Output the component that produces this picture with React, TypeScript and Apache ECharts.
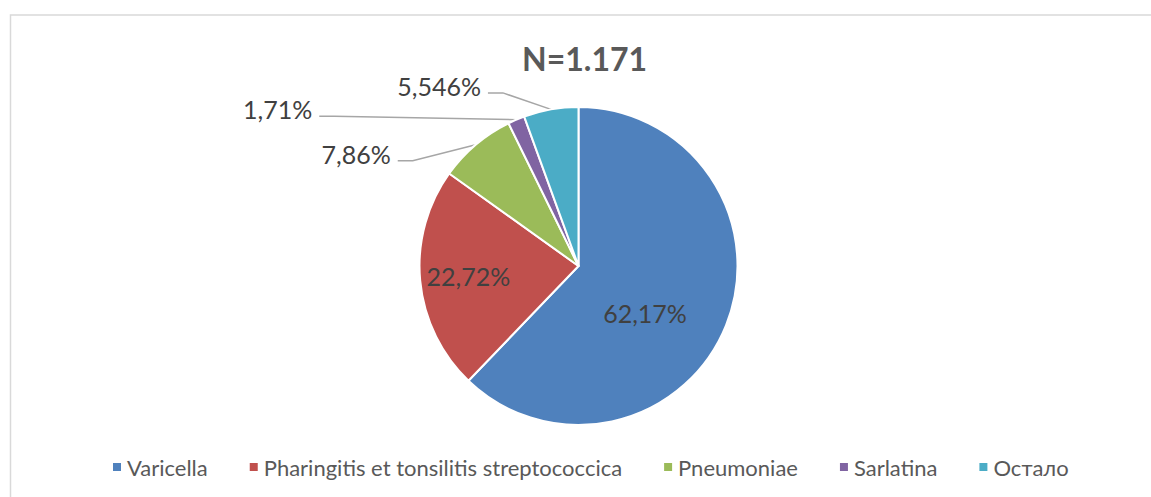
import React, { useEffect, useRef } from "react";
import * as echarts from "echarts";

const categories = [
  "Varicella",
  "Pharingitis et tonsilitis streptococcica",
  "Pneumoniae",
  "Sarlatina",
  "Остало",
];
const values = [62.17, 22.72, 7.86, 1.71, 5.546];
const colors = ["#4F81BD", "#C0504D", "#9BBB59", "#8064A2", "#4BACC6"];
const insideItems = [true, true, false, false, false];
const titleText = "N=1.171";

// label placement tweaks (pixel offsets, layout only)
const insideOffsets: Record<number, [number, number]> = { 0: [-10, 16], 1: [-28, 2] };
const outsideOffsets: Record<number, [number, number]> = {
  2: [-85, 9],
  3: [-204, -10.5],
  4: [-70, -23.5],
};

const fmt = (v: number) => String(v).replace(".", ",") + "%";

export default function App() {
  const ref = useRef<HTMLDivElement>(null);
  useEffect(() => {
    if (!ref.current) return;
    const chart = echarts.init(ref.current, null, { renderer: "svg" });
    const data = categories.map((name, i) => ({
      name,
      value: values[i],
      itemStyle: { color: colors[i] },
      label: { position: insideItems[i] ? "inside" : "outside" },
      labelLine: { show: !insideItems[i] },
    }));
    chart.setOption({
      animation: false,
      backgroundColor: "#ffffff",
      title: {
        text: titleText,
        left: 517,
        top: 37,
        textStyle: {
          fontFamily: "Lato",
          fontWeight: "bold",
          fontSize: 32,
          color: "#595959",
        },
      },
      graphic: [
        {
          type: "rect",
          shape: { x: 10.5, y: 15, width: 1160, height: 520 },
          style: { fill: "none", stroke: "#d9d9d9", lineWidth: 1.5 },
          silent: true,
        },
      ],
      legend: {
        left: 106,
        top: 451,
        icon: "rect",
        itemWidth: 10,
        itemHeight: 10,
        itemGap: 40,
        textStyle: { fontFamily: "Lato", fontSize: 22, color: "#595959" },
        data: categories,
      },
      series: [
        {
          type: "pie",
          center: [578.5, 266],
          radius: 159,
          startAngle: 90,
          clockwise: true,
          avoidLabelOverlap: false,
          itemStyle: { borderColor: "#ffffff", borderWidth: 2 },
          label: {
            show: true,
            formatter: (p: any) => fmt(p.value),
            fontFamily: "Lato",
            fontSize: 25,
            color: "#404040",
          },
          labelLine: {
            show: true,
            length: 20,
            length2: 20,
            lineStyle: { color: "#a6a6a6", width: 1.5 },
          },
          labelLayout: (params: any) => {
            const i = params.dataIndex;
            if (insideOffsets[i]) {
              return { dx: insideOffsets[i][0], dy: insideOffsets[i][1] };
            }
            const p0 = params.labelLinePoints && params.labelLinePoints[0];
            const o = outsideOffsets[i];
            if (!p0 || !o) return {};
            const rx = p0[0] + o[0];
            const cy = p0[1] + o[1];
            return {
              x: rx,
              y: cy,
              align: "right",
              verticalAlign: "middle",
              labelLinePoints: [
                [p0[0], p0[1]],
                [rx + 22, cy + 7],
                [rx + 7, cy + 7],
              ],
            };
          },
          data,
        },
      ],
    });
    return () => chart.dispose();
  }, []);
  return (
    <div
      ref={ref}
      style={{ position: "absolute", left: 0, top: 0, width: 1151, height: 497 }}
    />
  );
}
